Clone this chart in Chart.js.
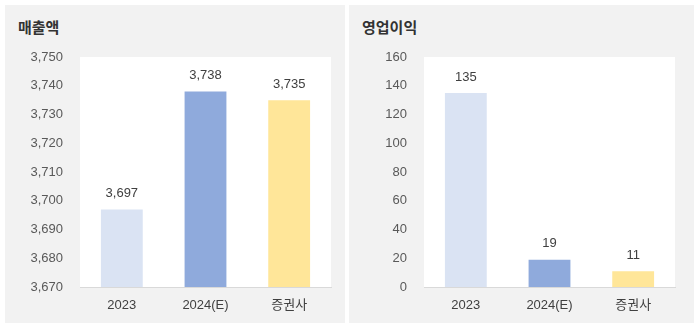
<!DOCTYPE html>
<html>
<head>
<meta charset="utf-8">
<script src="https://cdn.jsdelivr.net/npm/chart.js@4.4.1/dist/chart.umd.min.js"></script>
<style>
  body { margin: 0; background: #fff; width: 694px; height: 328px; overflow: hidden; font-family: 'Liberation Sans', 'Noto Sans CJK KR', sans-serif; }
  .panel { position: absolute; top: 5px; height: 318px; background: #f2f2f2; }
  .panel h3 { position: absolute; left: 13px; top: 11px; margin: 0; font-size: 15px; font-weight: bold; color: #333; font-family: 'Noto Sans CJK KR', sans-serif; }
  .panel canvas { position: absolute; left: 0; top: 0; }
</style>
</head>
<body>
<div class="panel" style="left:5px;width:340px;">
  <h3>매출액</h3>
  <canvas id="salesChart" width="340" height="318"></canvas>
</div>
<div class="panel" style="left:349px;width:345px;">
  <h3>영업이익</h3>
  <canvas id="profitChart" width="345" height="318"></canvas>
</div>
<script>
const categories = ["2023", "2024(E)", "증권사"];
const salesValues = [3697, 3738, 3735];
const profitValues = [135, 19, 11];
const barColors = ["#dae3f3", "#8faadc", "#ffe699"];

const fontFamily = "'Liberation Sans', 'Noto Sans CJK KR', sans-serif";

// white plot background
const plotBg = {
  id: "plotBg",
  beforeDraw(chart) {
    const { ctx, chartArea } = chart;
    ctx.save();
    ctx.fillStyle = "#ffffff";
    ctx.fillRect(chartArea.left, chartArea.top, chartArea.right - chartArea.left, chartArea.bottom - chartArea.top);
    ctx.restore();
  }
};

// numbers above bars
const valueLabels = {
  id: "valueLabels",
  afterDatasetsDraw(chart) {
    const { ctx } = chart;
    const meta = chart.getDatasetMeta(0);
    const values = chart.data.datasets[0].data;
    ctx.save();
    ctx.font = "13px " + fontFamily;
    ctx.fillStyle = "#404040";
    ctx.textAlign = "center";
    ctx.textBaseline = "middle";
    meta.data.forEach((bar, i) => {
      ctx.fillText(values[i].toLocaleString("en-US"), bar.x, bar.y - 16);
    });
    ctx.restore();
  }
};

const makeChart = (id, values, min, max, step, rightPad) => {
  const ctx = document.getElementById(id);
  return new Chart(ctx, {
    type: "bar",
    data: {
      labels: categories,
      datasets: [{
        data: values,
        backgroundColor: barColors,
        barPercentage: 0.5,
        categoryPercentage: 1.0,
        base: min
      }]
    },
    options: {
      responsive: false,
      animation: false,
      events: [],
      layout: { padding: { left: 0, top: 52, right: rightPad, bottom: 0 } },
      plugins: { legend: { display: false }, tooltip: { enabled: false }, title: { display: false } },
      scales: {
        x: {
          grid: { display: false, drawTicks: false },
          border: { display: true, color: "#d9d9d9", width: 1 },
          ticks: { color: "#404040", font: { family: fontFamily, size: 13 }, padding: 11 },
          afterFit(scale) { scale.height = 36; }
        },
        y: {
          min: min,
          max: max,
          grid: { display: false, drawTicks: false },
          border: { display: false },
          ticks: {
            stepSize: step,
            color: "#595959",
            font: { family: fontFamily, size: 13 },
            padding: 17,
            callback: v => v.toLocaleString("en-US")
          },
          afterFit(scale) { scale.width = 75; }
        }
      }
    },
    plugins: [plotBg, valueLabels]
  });
};

makeChart("salesChart", salesValues, 3670, 3750, 10, 14);
makeChart("profitChart", profitValues, 0, 160, 20, 19);
</script>
</body>
</html>
